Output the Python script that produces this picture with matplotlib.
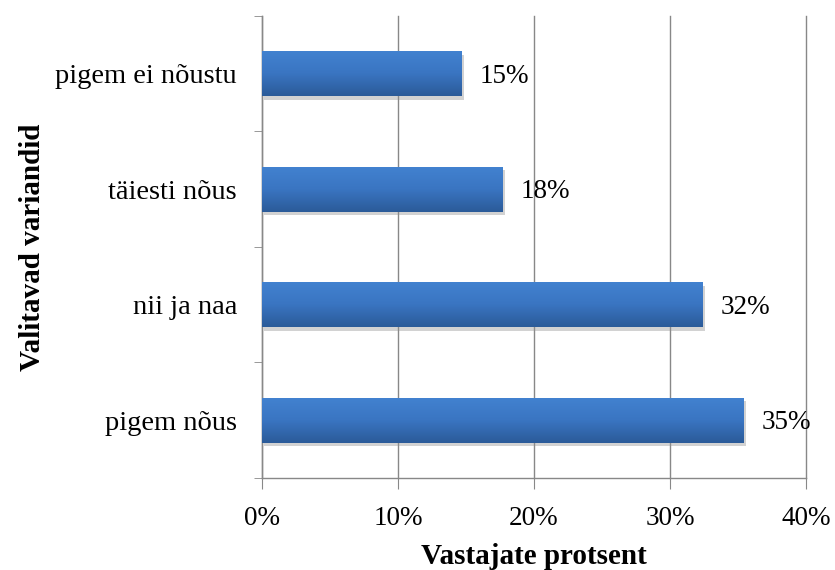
import numpy as np
import matplotlib.pyplot as plt
import matplotlib.patheffects as pe
from matplotlib.ticker import FixedLocator, FuncFormatter
from matplotlib.colors import LinearSegmentedColormap

# andmed (alt üles)
variandid = ['pigem nõus', 'nii ja naa', 'täiesti nõus', 'pigem ei nõustu']
protsendid = [35.4, 32.4, 17.7, 14.7]
x_ticks = [0, 10, 20, 30, 40]

plt.rcParams['font.family'] = ['Liberation Serif', 'DejaVu Serif']

fig = plt.figure(figsize=(8.35, 5.7), dpi=100)
ax = fig.add_axes([0.3138, 0.1614, 0.6515, 0.8106])

y = np.arange(len(variandid))
korgus = 0.39

bars = ax.barh(y, protsendid, height=korgus, color='#3670b8', zorder=3,
               path_effects=[pe.SimplePatchShadow(offset=(1.5, -2.5), shadow_rgbFace='#909090', alpha=0.4),
                             pe.Normal()])

# gradient igale tulbale
grad = np.linspace(0, 1, 64).reshape(-1, 1)
cmap = LinearSegmentedColormap.from_list('sinine', ['#2b5b99', '#3a75c2', '#4282d0'])
for b in bars:
    x0, y0 = b.get_x(), b.get_y()
    w, h = b.get_width(), b.get_height()
    im = ax.imshow(grad, cmap=cmap, aspect='auto', origin='lower',
                   extent=[x0, x0 + w, y0, y0 + h], zorder=4)
    im.set_clip_path(b)

for yi, v in zip(y, protsendid):
    ax.text(v + 1.3, yi - 0.02, f'{v:.0f}%', va='center', ha='left', fontsize=19.5, zorder=5)

ax.set_xlim(0, 40)
ax.set_ylim(-0.5, len(variandid) - 0.5)
ax.xaxis.set_major_locator(FixedLocator(x_ticks))
ax.xaxis.set_major_formatter(FuncFormatter(lambda v, p: f'{v:.0f}%'))
ax.set_yticks(y)
ax.set_yticklabels(variandid, fontsize=20.5)
ax.yaxis.set_minor_locator(FixedLocator(np.arange(-0.5, len(variandid), 1)))
ax.tick_params(axis='y', which='major', length=0, pad=18)
ax.tick_params(axis='y', which='minor', length=6, color='#888888', direction='out')
ax.tick_params(axis='x', length=8, color='#888888', direction='out', labelsize=19.5, pad=12)

ax.grid(axis='x', color='#888888', linewidth=1, zorder=0)
for gl in ax.get_xgridlines():
    gl.set_clip_on(False)
for s in ['top', 'right']:
    ax.spines[s].set_visible(False)
for s in ['left', 'bottom']:
    ax.spines[s].set_color('#888888')
    ax.spines[s].set_linewidth(1)

ax.set_xlabel('Vastajate protsent', fontsize=21, fontweight='bold', labelpad=9)
ax.set_ylabel('Valitavad variandid', fontsize=21, fontweight='bold')
ax.yaxis.set_label_coords(-0.397, 0.5)

fig.savefig('out.png', dpi=100)
